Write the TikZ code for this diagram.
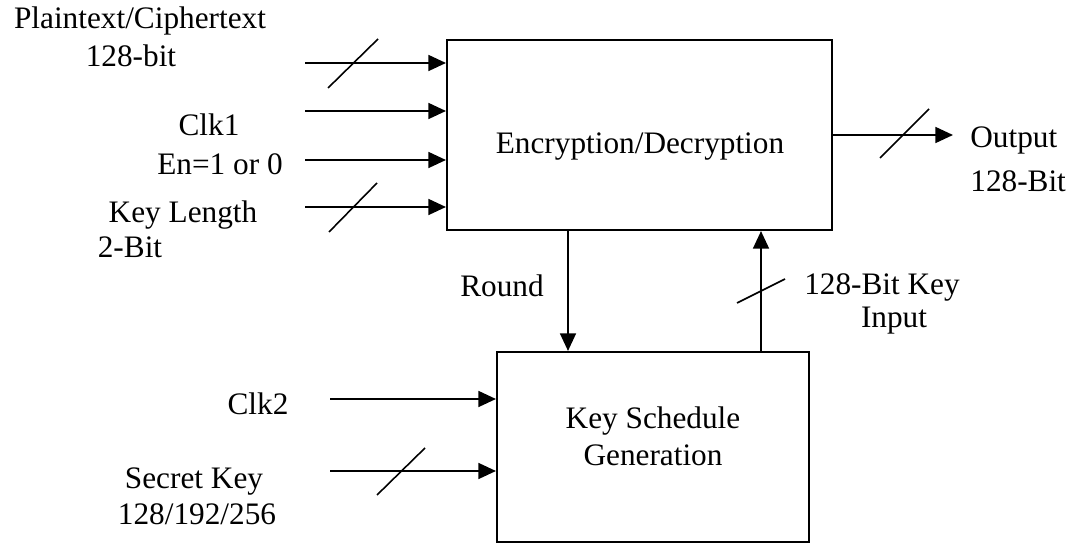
\documentclass[tikz,border=0pt]{standalone}
\usepackage{fontspec}
\setmainfont{Liberation Serif}
\usetikzlibrary{calc,arrows.meta}

\begin{document}
\begin{tikzpicture}[x=0.02cm,y=-0.02cm,
    font=\fontsize{17.8}{21}\selectfont,
    sig/.style={-{Triangle[length=10pt,width=9pt]},line width=1.2pt},
    bus/.style={line width=0.9pt},
    txt/.style={inner sep=0pt,anchor=base},
    blk/.style={draw,line width=1.2pt,inner sep=0pt}]
    \useasboundingbox (0,0) rectangle (1078,543);

    % Blocks
    \node [blk,minimum width=7.7cm,minimum height=3.8cm] (enc) at (639.5,135) {};
    \node [txt] (enctxt) at (640,154) {Encryption/Decryption};
    \node [blk,minimum width=6.24cm,minimum height=3.8cm] (ksg) at (653,447) {};
    \node [txt] (ksgtxt) at (653,429) {Key Schedule};
    \node [txt] (ksgtxt2) at (653,465) {Generation};

    % Inputs of the cipher block
    \coordinate (ptin) at (305,63);
    \coordinate (clkin) at (305,111);
    \coordinate (enin) at (305,160);
    \coordinate (klin) at (305,207);
    \draw [sig] (ptin) -- (ptin -| enc.west);
    \draw [sig] (clkin) -- (clkin -| enc.west);
    \draw [sig] (enin) -- (enin -| enc.west);
    \draw [sig] (klin) -- (klin -| enc.west);
    \draw [bus] ($(ptin)+(23,25)$) -- ++(50,-49);
    \draw [bus] ($(klin)+(24,25)$) -- ++(48,-49);

    \node [txt] (ptlbl) at (140,29) {Plaintext/Ciphertext};
    \node [txt] (ptlbl2) at (131,67) {128-bit};
    \node [txt] (clklbl) at (209,136) {Clk1};
    \node [txt] (enlbl) at (220,175) {En=1 or 0};
    \node [txt] (kllbl) at (183,223) {Key Length};
    \node [txt] (kllbl2) at (130,258) {2-Bit};

    % Output
    \coordinate (outend) at (953,135);
    \draw [sig] (enc.east |- outend) -- (outend);
    \draw [bus] ($(outend)+(-73,23)$) -- ++(49,-49);
    \node [txt,anchor=base west] (outlbl) at (970,148) {Output};
    \node [txt,anchor=base west] (outlbl2) at (970,192) {128-Bit};

    % Links between the two blocks
    \coordinate (rnd) at (568,291);
    \coordinate (kin) at (761,291);
    \draw [sig] (rnd |- enc.south) -- (rnd |- ksg.north);
    \draw [sig] (kin |- ksg.north) -- (kin |- enc.south);
    \draw [bus] ($(kin)+(-24,12)$) -- ++(48,-24);
    \node [txt] (rndlbl) at (502,297) {Round};
    \node [txt] (kinlbl) at (882,295) {128-Bit Key};
    \node [txt] (kinlbl2) at (894,328) {Input};

    % Inputs of the key schedule
    \coordinate (clk2in) at (330,399);
    \coordinate (skin) at (330,471);
    \draw [sig] (clk2in) -- (clk2in -| ksg.west);
    \draw [sig] (skin) -- (skin -| ksg.west);
    \draw [bus] ($(skin)+(47,24)$) -- ++(48,-47);
    \node [txt] (clk2lbl) at (258,415) {Clk2};
    \node [txt] (sklbl) at (194,488) {Secret Key};
    \node [txt] (sklbl2) at (197,524) {128/192/256};
\end{tikzpicture}
\end{document}
